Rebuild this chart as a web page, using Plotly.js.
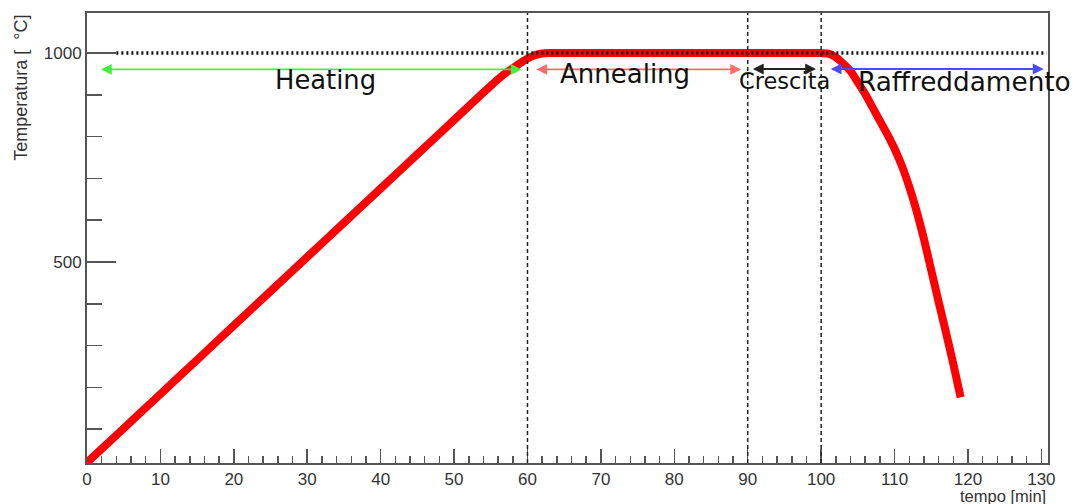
<!DOCTYPE html>
<html>
<head>
<meta charset="utf-8">
<script src="https://cdn.plot.ly/plotly-3.0.1.min.js"></script>
<style>html,body{margin:0;padding:0;background:#fff;}#chart{width:1078px;height:504px;}</style>
</head>
<body>
<div id="chart"></div>
<script>
// Temperature profile (tempo [min], temperatura [°C])
var tempo = [0,5,10,15,20,25,30,35,40,45,50,55,57,58,59,60,61,62,63,
             70,80,90,100,101,102,103,104,105,106,107,108,109,110,111,112,113,114,115,116,117,118,119];
var temperatura = [20,102,184,266,348,430,512,594,676,758,840,922,952,964,976,987,995,999,1000,
             1000,1000,1000,1000,999,990,975,957,930,902,870,838,806,771,730,680,622,555,480,405,332,256,176];

// Reference level (dotted) and phase boundaries (dashed)
var refLevelX = [4, 130.7];
var refLevelY = [1000, 1000];
var phaseBounds = [60, 90, 100];

// Phase arrows and labels
var phaseNames = ["Heating", "Annealing", "Crescita", "Raffreddamento"];
var arrowStart = [1.7, 61.0, 90.5, 101.1];
var arrowEnd = [59.2, 89.1, 99.3, 130.3];
var arrowLevel = [961, 961, 962, 962];
var arrowColors = ["#40f040", "#ff6a6a", "#222222", "#4a4aff"];
var labelX = [25.4, 64.1, 88.6, 104.8];
var labelY = [936, 949, 934, 932];
var labelSizes = [25.8, 26, 22.5, 26.3];

var traces = [
  {x: tempo, y: temperatura, mode: "lines", type: "scatter",
   line: {color: "#ff0000", width: 8, shape: "spline", smoothing: 0.6}, hoverinfo: "skip"},
  {x: refLevelX, y: refLevelY, mode: "lines", type: "scatter",
   line: {color: "#111111", width: 3.5, dash: "2px,3px"}, hoverinfo: "skip"}
];

var shapes = phaseBounds.map(function (v) {
  return {type: "line", xref: "x", yref: "paper", x0: v, x1: v, y0: 0, y1: 1,
          line: {color: "#222222", width: 1.5, dash: "4px,3px"}, layer: "above"};
});

var annotations = [];
for (var i = 0; i < phaseNames.length; i++) {
  annotations.push({
    x: arrowEnd[i], y: arrowLevel[i], ax: arrowStart[i], ay: arrowLevel[i],
    xref: "x", yref: "y", axref: "x", ayref: "y", text: "",
    showarrow: true, arrowside: "end+start", arrowhead: 2, startarrowhead: 2,
    arrowsize: 1.2, startarrowsize: 1.2, arrowwidth: 1.8, arrowcolor: arrowColors[i],
    standoff: 0, startstandoff: 0
  });
  annotations.push({
    x: labelX[i], y: labelY[i], xref: "x", yref: "y", text: phaseNames[i],
    showarrow: false, xanchor: "left", yanchor: "middle",
    font: {family: "DejaVu Sans", size: labelSizes[i], color: "#111111"}
  });
}
annotations.push({
  text: "Temperatura [  °C]", xref: "paper", yref: "paper", x: -0.069, y: 1.0,
  xanchor: "center", yanchor: "top", textangle: -90, showarrow: false,
  font: {family: "Liberation Sans", size: 18, color: "#333333"}
});
annotations.push({
  text: "tempo [min]", xref: "paper", yref: "paper", x: 1.0, y: -0.073,
  xanchor: "right", yanchor: "middle", showarrow: false,
  font: {family: "Liberation Sans", size: 16.5, color: "#333333"}
});

var layout = {
  width: 1078, height: 504,
  margin: {l: 87, r: 30, t: 13, b: 41, pad: 0},
  paper_bgcolor: "#ffffff", plot_bgcolor: "#ffffff",
  showlegend: false,
  font: {family: "Liberation Sans", size: 17, color: "#333333"},
  xaxis: {
    range: [0, 130.9], dtick: 10, tick0: 0, ticks: "inside", ticklen: 14, tickwidth: 1.5,
    tickcolor: "#555555", showline: true, linecolor: "#555555", linewidth: 2, mirror: true,
    showgrid: false, zeroline: false,
    minor: {dtick: 2, ticks: "inside", ticklen: 7, tickwidth: 1.5, tickcolor: "#555555", showgrid: false},
    tickfont: {family: "Liberation Sans", size: 17, color: "#333333"}
  },
  yaxis: {
    range: [19, 1096], tickvals: [500, 1000], ticks: "inside", ticklen: 29, tickwidth: 1.5,
    tickcolor: "#555555", showline: true, linecolor: "#555555", linewidth: 2, mirror: true,
    showgrid: false, zeroline: false,
    minor: {dtick: 100, tick0: 0, ticks: "inside", ticklen: 15, tickwidth: 1.5, tickcolor: "#555555", showgrid: false},
    tickfont: {family: "Liberation Sans", size: 17, color: "#333333"}
  },
  shapes: shapes,
  annotations: annotations
};

Plotly.newPlot("chart", traces, layout, {displayModeBar: false, staticPlot: true});
</script>
</body>
</html>
